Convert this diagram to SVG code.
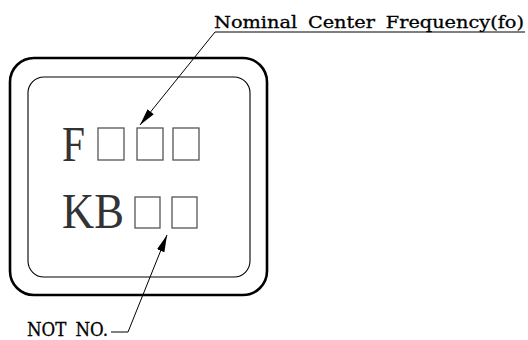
<svg xmlns="http://www.w3.org/2000/svg" width="528" height="340" viewBox="0 0 528 340">
<style>
.frame{fill:none;stroke:#000}
.box{fill:#fff;stroke:#555;stroke-width:1.3}
.big{font-family:"Liberation Serif",serif;font-size:50px;fill:#333}
.lbl{font-family:"DejaVu Serif",serif;fill:#000;stroke:#000;stroke-width:0.3;word-spacing:4px}
.lead{fill:none;stroke:#000;stroke-width:1}
</style>
<defs>
<marker id="ah" viewBox="0 0 17 8" refX="17" refY="4" markerWidth="17" markerHeight="8" markerUnits="userSpaceOnUse" orient="auto">
<path d="M0,0 L17,4 L0,8 Z" fill="#000"/>
</marker>
</defs>
<g id="package">
<rect class="frame" x="10" y="58" width="257" height="237" rx="24" stroke-width="2.6"/>
<rect class="frame" x="28" y="77" width="222" height="200" rx="16" stroke-width="1.1"/>
</g>
<g id="row-f">
<text class="big" x="62" y="161" textLength="23" lengthAdjust="spacingAndGlyphs">F</text>
<rect class="box" x="98" y="128" width="26" height="32"/>
<rect class="box" x="137" y="128" width="26" height="32"/>
<rect class="box" x="173" y="128" width="26" height="32"/>
</g>
<g id="row-kb">
<text class="big" x="62" y="228" textLength="62" lengthAdjust="spacingAndGlyphs">KB</text>
<rect class="box" x="135" y="197" width="25" height="31"/>
<rect class="box" x="172" y="197" width="25" height="31"/>
</g>
<g id="label-fo">
<text class="lbl" x="214" y="28" font-size="16.5" textLength="310" lengthAdjust="spacingAndGlyphs">Nominal Center Frequency(fo)</text>
</g>
<g id="label-not">
<text class="lbl" x="27" y="336" font-size="18" textLength="81" lengthAdjust="spacingAndGlyphs">NOT NO.</text>
</g>
<g id="connectors">
<polyline class="lead" points="525,32 215,32 140,125" marker-end="url(#ah)"/>
<polyline class="lead" points="111,332 128,332 167,235" marker-end="url(#ah)"/>
</g>
</svg>
